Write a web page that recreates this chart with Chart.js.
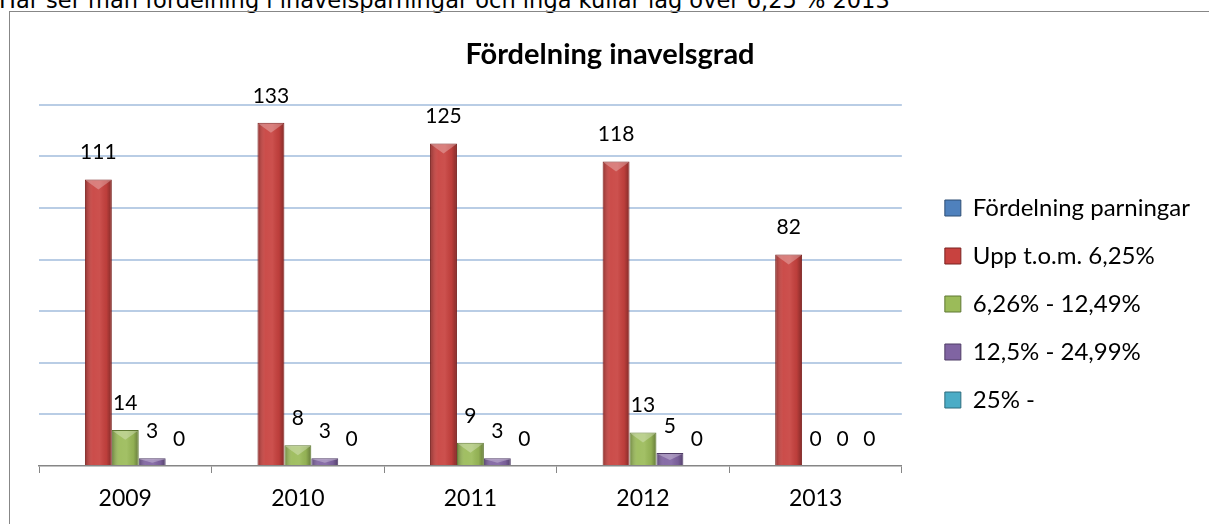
<!DOCTYPE html>
<html>
<head>
<meta charset="utf-8">
<script src="https://cdn.jsdelivr.net/npm/chart.js@4.4.1/dist/chart.umd.min.js"></script>
<style>
  html, body { margin: 0; padding: 0; background: #fff; overflow: hidden; }
  body { width: 1209px; height: 524px; position: relative; }
  .intro {
    position: absolute; left: -1px; top: -13px; white-space: nowrap;
    font-family: "DejaVu Sans", Verdana, sans-serif; font-size: 22.5px; line-height: 26px; color: #000;
  }
  .frame {
    position: absolute; left: 9px; top: 11px; width: 1210px; height: 520px;
    border: 1px solid #878787; box-sizing: border-box;
  }
  .chart-wrap { position: absolute; left: 10px; top: 12px; width: 1199px; height: 512px; }
</style>
</head>
<body>
<div class="intro">Här ser man fördelning i inavelsparningar och inga kullar låg över 6,25 % 2013</div>
<div class="frame"></div>
<div class="chart-wrap"><canvas id="inavelChart"></canvas></div>
<script>
// Chart data
const years = ['2009', '2010', '2011', '2012', '2013'];
const seriesNames = ['Fördelning parningar', 'Upp t.o.m. 6,25%', '6,26% - 12,49%', '12,5% - 24,99%', '25% -'];
const parningar = [null, null, null, null, null];
const uppTill625 = [111, 133, 125, 118, 82];
const mellan626 = [14, 8, 9, 13, 0];
const mellan125 = [3, 3, 3, 5, 0];
const over25 = [0, 0, 0, 0, 0];
const seriesColors = ['#4F81BD', '#C8423F', '#9BBB59', '#8064A2', '#4BACC6'];
const seriesBorders = ['#2F4F75', '#7A2220', '#5F7833', '#4F3C66', '#2D6B7C'];

const labelFont = '"Lato", "Liberation Sans", sans-serif';

// fake the excel bevel: dark edges and a light triangle on top of each bar
const barShading = {
  id: 'barShading',
  afterDatasetsDraw(chart) {
    const ctx = chart.ctx;
    ctx.save();
    chart.data.datasets.forEach((ds, i) => {
      chart.getDatasetMeta(i).data.forEach((bar, j) => {
        const v = ds.data[j];
        if (!v) return;
        const left = bar.x - bar.width / 2;
        const right = bar.x + bar.width / 2;
        const top = Math.min(bar.y, bar.base);
        const h = Math.abs(bar.base - bar.y);
        const g = ctx.createLinearGradient(left, 0, right, 0);
        g.addColorStop(0, 'rgba(0,0,0,0.30)');
        g.addColorStop(0.3, 'rgba(255,255,255,0.06)');
        g.addColorStop(0.55, 'rgba(255,255,255,0.08)');
        g.addColorStop(0.8, 'rgba(0,0,0,0.06)');
        g.addColorStop(1, 'rgba(0,0,0,0.35)');
        ctx.fillStyle = g;
        ctx.fillRect(left + 1, top + 1, bar.width - 2, h - 1);
        const tri = Math.min(bar.width / 3, h / 2);
        ctx.beginPath();
        ctx.moveTo(left + 1, top + 1);
        ctx.lineTo(right - 1, top + 1);
        ctx.lineTo(bar.x, top + 1 + tri);
        ctx.closePath();
        ctx.fillStyle = 'rgba(255,255,255,0.28)';
        ctx.fill();
      });
    });
    ctx.restore();
  }
};

// draws the value above each bar (no datalabels plugin offline)
const valueLabels = {
  id: 'valueLabels',
  afterDatasetsDraw(chart) {
    const ctx = chart.ctx;
    ctx.save();
    ctx.font = '21px ' + labelFont;
    ctx.fillStyle = '#000';
    ctx.textAlign = 'center';
    ctx.textBaseline = 'middle';
    chart.data.datasets.forEach((ds, i) => {
      const meta = chart.getDatasetMeta(i);
      meta.data.forEach((bar, j) => {
        const v = ds.data[j];
        if (v === null || v === undefined) return;
        ctx.fillText(String(v), bar.x, bar.y - 27);
      });
    });
    ctx.restore();
  }
};

// nudge the legend to where excel puts it
const legendNudge = {
  id: 'legendNudge',
  afterLayout(chart) {
    const lg = chart.legend;
    if (!lg) return;
    lg.left += 19; lg.right += 19;
    lg.top += 36; lg.bottom += 36;
  }
};

const allSeries = [parningar, uppTill625, mellan626, mellan125, over25];

const ctx = document.getElementById('inavelChart').getContext('2d');
new Chart(ctx, {
  type: 'bar',
  data: {
    labels: years,
    datasets: allSeries.map((vals, i) => ({
      label: seriesNames[i],
      data: vals,
      backgroundColor: seriesColors[i],
      borderColor: seriesBorders[i],
      borderWidth: 1,
      categoryPercentage: 0.78,
      barPercentage: 1.0
    }))
  },
  options: {
    responsive: true,
    maintainAspectRatio: false,
    animation: false,
    layout: { padding: { left: 29, right: 28, top: 0, bottom: 0 } },
    plugins: {
      title: {
        display: true,
        text: 'Fördelning inavelsgrad',
        color: '#000',
        font: { family: labelFont, size: 29, weight: 'bold' },
        padding: { top: 25, bottom: 33 }
      },
      legend: {
        position: 'right',
        align: 'center',
        labels: {
          color: '#000',
          font: { family: labelFont, size: 24 },
          boxWidth: 16,
          boxHeight: 16,
          padding: 24
        }
      },
      tooltip: { enabled: false }
    },
    scales: {
      x: {
        grid: {
          display: true,
          drawOnChartArea: false,
          drawTicks: true,
          tickLength: 7,
          color: '#868686',
          offset: true
        },
        border: { display: true, color: '#868686', width: 1.5 },
        ticks: { color: '#000', font: { family: labelFont, size: 23, lineHeight: 1.0 }, padding: 14 }
      },
      y: {
        min: 0,
        max: 140,
        ticks: { display: false, stepSize: 20 },
        border: { display: false },
        grid: {
          drawTicks: false,
          lineWidth: 2,
          color: (c) => (c.index === 0 ? 'rgba(0,0,0,0)' : '#B9CDE5')
        }
      }
    }
  },
  plugins: [barShading, valueLabels, legendNudge]
});
</script>
</body>
</html>
